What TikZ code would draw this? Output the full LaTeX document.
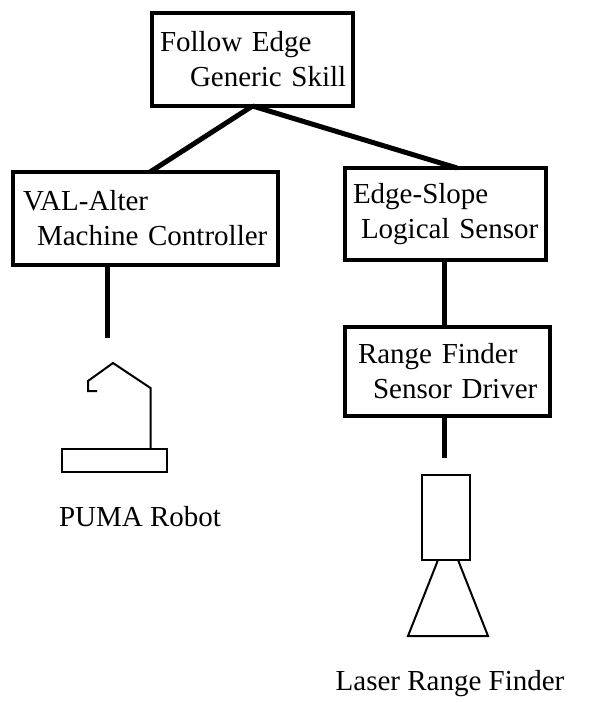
\documentclass[tikz,border=0pt]{standalone}
\usepackage{fontspec}
\setmainfont{Liberation Serif}
\newcommand{\boxline}[2][0pt]{\mbox{\hspace*{#1}#2}}
\begin{document}
\begin{tikzpicture}[x=1pt,y=-1pt,
  font=\fontsize{29}{35}\selectfont,
  modbox/.style={draw, line width=4pt, align=left, anchor=north west,
    inner ysep=0pt, outer sep=0pt},
  link/.style={line width=5pt},
  sketch/.style={line width=2pt, line join=miter},
  caption/.style={anchor=base, inner sep=0pt}]
\useasboundingbox (0,0) rectangle (590,703);

% skill and driver modules (box corner, size, text indent)
\node[modbox, minimum width=201pt, minimum height=93pt, text width=185pt, inner xsep=8pt]
  (skill) at (152,13) {\boxline{Follow Edge}\\\boxline[30pt]{Generic Skill}};
\node[modbox, minimum width=265pt, minimum height=93pt, text width=245pt, inner xsep=10pt]
  (valc) at (13,172) {\boxline{VAL-Alter}\\\boxline[14pt]{Machine Controller}};
\node[modbox, minimum width=201pt, minimum height=92pt, text width=185pt, inner xsep=8pt]
  (slope) at (345,168) {\boxline{Edge-Slope}\\\boxline[8pt]{Logical Sensor}};
\node[modbox, minimum width=205pt, minimum height=89pt, text width=179pt, inner xsep=13pt]
  (driver) at (345,327) {\boxline{Range Finder}\\\boxline[15pt]{Sensor Driver}};

% free ends of the device links
\coordinate (robotend) at (107,338);
\coordinate (finderend) at (444,458);

% links between modules
\draw[link] (skill.south) -- ([xshift=4.5pt]valc.north);
\draw[link] (skill.south) -- ([xshift=11.5pt]slope.north);
\draw[link] ([xshift=-38.5pt]valc.south) -- (robotend);
\draw[link] ([xshift=-1.5pt]slope.south) -- ([xshift=-3.5pt]driver.north);
\draw[link] ([xshift=-3.5pt]driver.south) -- (finderend);

% PUMA robot: base and arm
\draw[sketch] (62,449) rectangle (167,472);
\draw[sketch] (150.5,449) -- (150.5,388) -- (113,363) -- (88,381)
  -- (88,391) -- (97,391);
\node[caption] (puma) at (140,526) {PUMA Robot};

% laser range finder: body and beam
\draw[sketch] (422,475) rectangle (470,560);
\draw[sketch] (438,560) -- (408,636) -- (488,636) -- (458,560);
\node[caption] (laser) at (450,690) {Laser Range Finder};
\end{tikzpicture}
\end{document}
